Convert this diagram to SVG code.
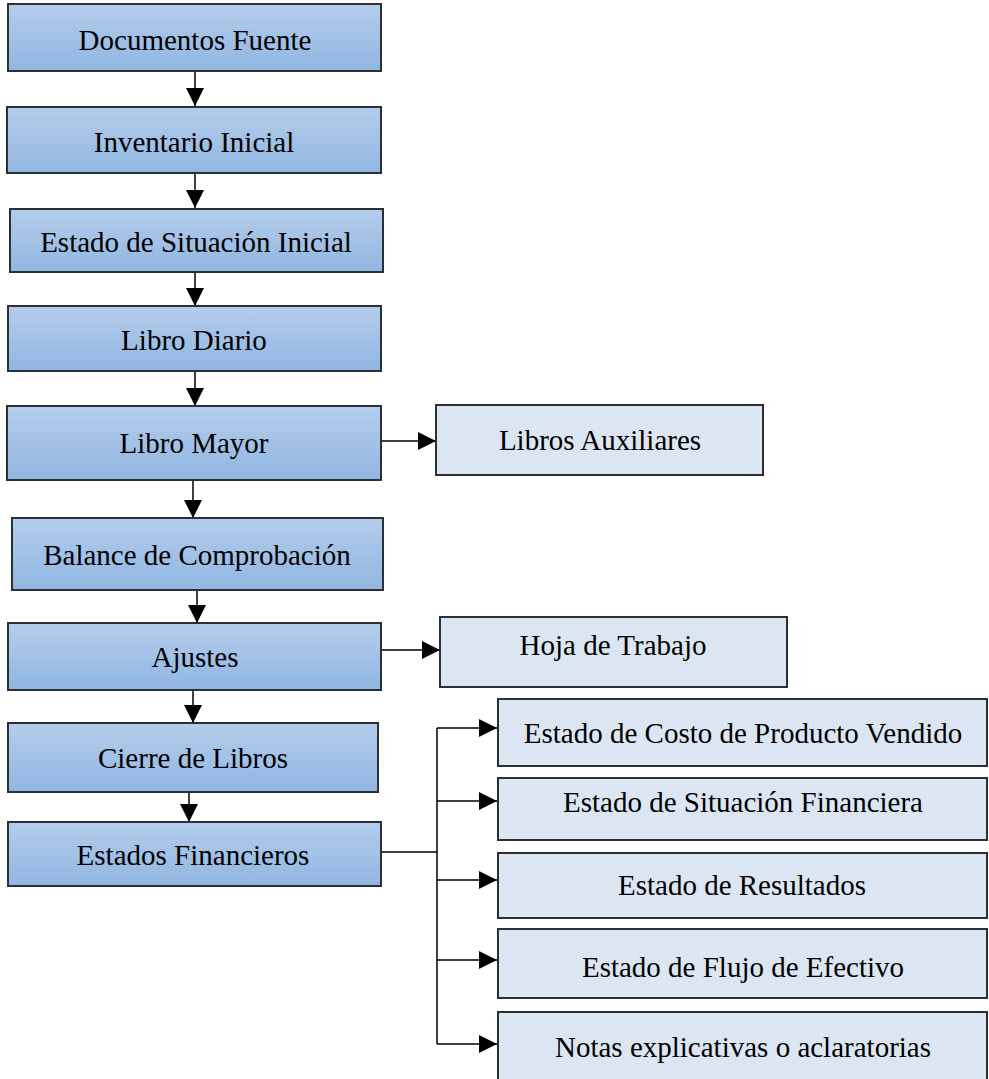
<svg xmlns="http://www.w3.org/2000/svg" width="989" height="1079" viewBox="0 0 989 1079">
<defs>
<linearGradient id="blueGrad" x1="0" y1="0" x2="0" y2="1">
<stop offset="0" stop-color="#b4cdeb"/>
<stop offset="1" stop-color="#90b6e2"/>
</linearGradient>
<marker id="arrow" markerUnits="userSpaceOnUse" markerWidth="18" markerHeight="18" viewBox="0 0 16 16" refX="16" refY="8" orient="auto">
<path d="M0,0 L16,8 L0,16 Z" fill="#000"/>
</marker>
<style>
.main{fill:url(#blueGrad);stroke:#2b2f36;stroke-width:2}
.side{fill:#dce6f3;stroke:#2b2f36;stroke-width:2}
text{font-family:"Liberation Serif","Times New Roman",serif;font-size:29px;fill:#000;text-anchor:middle}
.conn{stroke:#000;stroke-width:1.5;fill:none}
.arr{marker-end:url(#arrow)}
</style>
</defs>
<g id="connectors">
<line class="conn arr" x1="195" y1="71" x2="195" y2="106"/>
<line class="conn arr" x1="195" y1="173" x2="195" y2="208"/>
<line class="conn arr" x1="195" y1="272" x2="195" y2="306"/>
<line class="conn arr" x1="195" y1="371" x2="195" y2="406"/>
<line class="conn arr" x1="193" y1="480" x2="193" y2="518"/>
<line class="conn arr" x1="197" y1="590" x2="197" y2="623"/>
<line class="conn arr" x1="193" y1="690" x2="193" y2="723"/>
<line class="conn arr" x1="189" y1="792" x2="189" y2="822"/>
<line class="conn arr" x1="381" y1="441" x2="436" y2="441"/>
<line class="conn arr" x1="381" y1="650" x2="440" y2="650"/>
<line class="conn" x1="381" y1="852" x2="437" y2="852"/>
<line class="conn" x1="437" y1="728" x2="437" y2="1044"/>
<line class="conn arr" x1="437" y1="728" x2="497" y2="728"/>
<line class="conn arr" x1="437" y1="801" x2="497" y2="801"/>
<line class="conn arr" x1="437" y1="880" x2="497" y2="880"/>
<line class="conn arr" x1="437" y1="960" x2="497" y2="960"/>
<line class="conn arr" x1="437" y1="1044" x2="497" y2="1044"/>
</g>
<g id="n1"><rect class="main" x="8" y="4" width="373" height="67"/><text x="195" y="50">Documentos Fuente</text></g>
<g id="n2"><rect class="main" x="7" y="107" width="374" height="66"/><text x="194" y="152">Inventario Inicial</text></g>
<g id="n3"><rect class="main" x="10" y="209" width="373" height="63"/><text x="196" y="252">Estado de Situación Inicial</text></g>
<g id="n4"><rect class="main" x="8" y="306" width="373" height="65"/><text x="194" y="350">Libro Diario</text></g>
<g id="n5"><rect class="main" x="7" y="406" width="374" height="74"/><text x="194" y="453">Libro Mayor</text></g>
<g id="n6"><rect class="main" x="12" y="518" width="371" height="72"/><text x="197" y="565">Balance de Comprobación</text></g>
<g id="n7"><rect class="main" x="8" y="623" width="373" height="67"/><text x="195" y="667">Ajustes</text></g>
<g id="n8"><rect class="main" x="8" y="723" width="370" height="69"/><text x="193" y="768">Cierre de Libros</text></g>
<g id="n9"><rect class="main" x="8" y="822" width="373" height="64"/><text x="193" y="865">Estados Financieros</text></g>
<g id="s1"><rect class="side" x="436" y="405" width="327" height="70"/><text x="600" y="450">Libros Auxiliares</text></g>
<g id="s2"><rect class="side" x="440" y="617" width="347" height="70"/><text x="613" y="655">Hoja de Trabajo</text></g>
<g id="s3"><rect class="side" x="498" y="699" width="489" height="67"/><text x="743" y="743">Estado de Costo de Producto Vendido</text></g>
<g id="s4"><rect class="side" x="498" y="778" width="489" height="62"/><text x="743" y="812">Estado de Situación Financiera</text></g>
<g id="s5"><rect class="side" x="498" y="853" width="489" height="65"/><text x="742" y="895">Estado de Resultados</text></g>
<g id="s6"><rect class="side" x="498" y="929" width="489" height="69"/><text x="743" y="977">Estado de Flujo de Efectivo</text></g>
<g id="s7"><rect class="side" x="498" y="1012" width="489" height="80"/><text x="743" y="1057">Notas explicativas o aclaratorias</text></g>
</svg>
